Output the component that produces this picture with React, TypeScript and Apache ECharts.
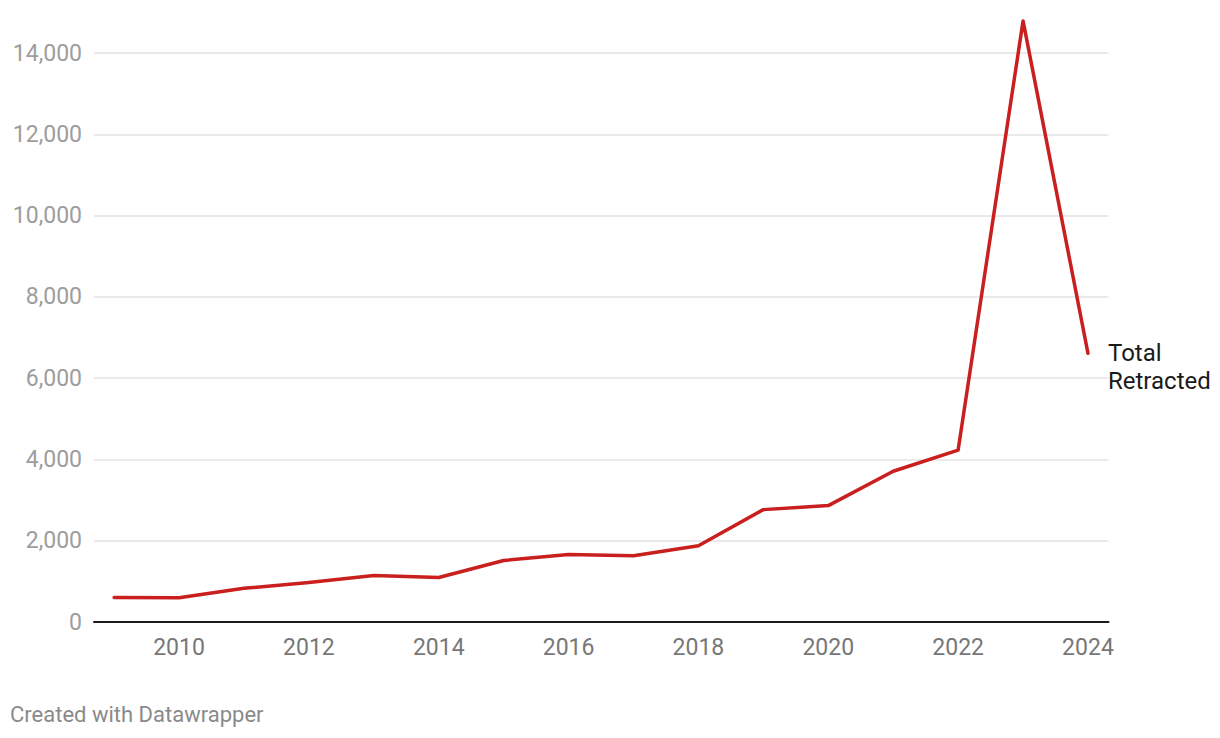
import React, { useEffect, useRef } from "react";
import * as echarts from "echarts";

const years = [2009, 2010, 2011, 2012, 2013, 2014, 2015, 2016, 2017, 2018, 2019, 2020, 2021, 2022, 2023, 2024];
const totalRetracted = [600, 595, 830, 970, 1143, 1094, 1514, 1660, 1630, 1877, 2765, 2864, 3710, 4230, 14790, 6610];
const xTickLabels = [2010, 2012, 2014, 2016, 2018, 2020, 2022, 2024];
const seriesName = "Total\nRetracted";
const footer = "Created with Datawrapper";

export default function App() {
  const ref = useRef<HTMLDivElement>(null);
  useEffect(() => {
    document.body.style.margin = "0";
    const chart = echarts.init(ref.current!, null, { renderer: "svg" });
    const font = "Roboto, 'Noto Sans', sans-serif";
    chart.setOption({
      animation: false,
      textStyle: { fontFamily: font },
      grid: { left: 94, right: 1220 - 1108.5, top: 53, bottom: 738 - 622, containLabel: false },
      xAxis: {
        type: "value",
        min: 2008.69,
        max: 2024.316,
        splitLine: { show: false },
        axisTick: { show: false },
        axisLine: { show: true, onZero: false, lineStyle: { color: "#1a1a1a", width: 2 } },
        axisLabel: {
          customValues: xTickLabels,
          formatter: (v: number) => String(v),
          color: "#777777",
          fontSize: 23,
          fontFamily: font,
          margin: 14,
        },
      },
      yAxis: {
        type: "value",
        min: 0,
        max: 14000,
        interval: 2000,
        axisLine: { show: false },
        axisTick: { show: false },
        splitLine: { lineStyle: { color: "#e3e3e3", width: 1.5 } },
        axisLabel: {
          formatter: (v: number) => v.toLocaleString("en-US"),
          color: "#9d9d9d",
          fontSize: 23,
          fontFamily: font,
          margin: 12,
        },
      },
      series: [
        {
          type: "line",
          name: seriesName,
          data: years.map((y, i) => [y, totalRetracted[i]]),
          showSymbol: false,
          symbol: "none",
          clip: false,
          lineStyle: { color: "#c91f1f", width: 3.5, cap: "round", join: "round" },
          endLabel: {
            show: true,
            formatter: () => seriesName,
            color: "#1a1a1a",
            fontSize: 24,
            fontFamily: font,
            lineHeight: 28,
            align: "left",
            verticalAlign: "middle",
            distance: 20,
            offset: [0, 14],
          },
        },
      ],
      graphic: [
        {
          type: "text",
          left: 10,
          top: 703,
          style: { text: footer, fill: "#8a8a8a", fontSize: 22, fontFamily: font },
        },
      ],
    });
    return () => chart.dispose();
  }, []);
  return <div ref={ref} style={{ width: 1220, height: 738 }} />;
}
